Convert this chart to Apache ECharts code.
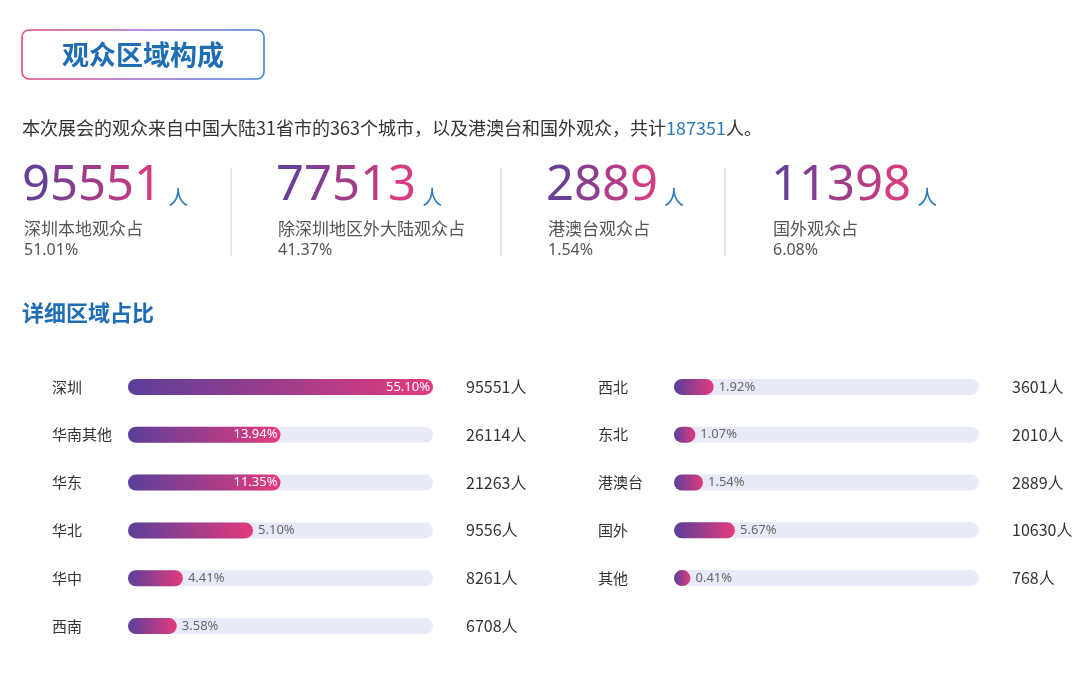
<!DOCTYPE html>
<html>
<head>
<meta charset="utf-8">
<title>观众区域构成</title>
<script src="https://cdn.jsdelivr.net/npm/echarts@6/dist/echarts.min.js"></script>
<style>
  html, body { margin: 0; padding: 0; background: #fff; }
  #main { width: 1080px; height: 675px; }
</style>
</head>
<body>
<div id="main"></div>
<script>
// 数据
const totalVisitors = 187351;
const provinceCount = 31;
const cityCount = 363;

const statValues = [95551, 77513, 2889, 11398];
const statNames = ['深圳本地观众占', '除深圳地区外大陆观众占', '港澳台观众占', '国外观众占'];
const statPercents = [51.01, 41.37, 1.54, 6.08];

const leftRegions = ['深圳', '华南其他', '华东', '华北', '华中', '西南'];
const leftPercents = [55.10, 13.94, 11.35, 5.10, 4.41, 3.58];
const leftCounts = [95551, 26114, 21263, 9556, 8261, 6708];
// 进度条长度（按原图读取，并非按百分比线性）
const leftFill = [1.00, 0.50, 0.50, 0.41, 0.18, 0.16];

const rightRegions = ['西北', '东北', '港澳台', '国外', '其他'];
const rightPercents = [1.92, 1.07, 1.54, 5.67, 0.41];
const rightCounts = [3601, 2010, 2889, 10630, 768];
const rightFill = [0.13, 0.07, 0.095, 0.20, 0.054];

// 样式
const FONT = '"Noto Sans", "Noto Sans CJK SC", sans-serif';
const CJK = '"Noto Sans CJK SC", sans-serif';
const BLUE = '#1f6db3';
const PURPLE = '#5a3f9a';
const PINK = '#e33b7c';

function grad() {
  return new echarts.graphic.LinearGradient(0, 0, 1, 0, [
    { offset: 0, color: PURPLE },
    { offset: 1, color: PINK }
  ]);
}

// 测量文字宽度
const measureCtx = document.createElement('canvas').getContext('2d');
function textWidth(str, font) {
  measureCtx.font = font;
  return measureCtx.measureText(str).width;
}

const chart = echarts.init(document.getElementById('main'));

// 顶部标题和统计
const graphic = [];
graphic.push({
  type: 'rect',
  shape: { x: 22, y: 30, width: 242, height: 49, r: 7 },
  style: {
    fill: '#fff',
    lineWidth: 1.6,
    stroke: new echarts.graphic.LinearGradient(0, 0, 1, 0, [
      { offset: 0, color: '#e4487e' },
      { offset: 0.5, color: '#a066c8' },
      { offset: 1, color: '#3d84d6' }
    ])
  }
});
graphic.push({
  type: 'text', x: 143, y: 55,
  style: { text: '观众区域构成', font: 'bold 27px ' + CJK, fill: BLUE, align: 'center', verticalAlign: 'middle' }
});
graphic.push({
  type: 'text', x: 22, y: 128,
  style: {
    text: '本次展会的观众来自中国大陆' + provinceCount + '省市的' + cityCount +
      '个城市，以及港澳台和国外观众，共计{b|' + totalVisitors + '}人。',
    font: '18px ' + CJK, fill: '#333', verticalAlign: 'middle',
    rich: { b: { fill: '#2a7ab8', fontSize: 18, fontFamily: CJK } }
  }
});

const statX = [22, 276, 546, 771];
const sepX = [231, 501, 725];
const numFont = '49px ' + FONT;
statValues.forEach((v, i) => {
  const s = String(v);
  const w = textWidth(s, numFont);
  // 画布文字不支持渐变填充，逐个数字取渐变色
  let cx = statX[i];
  s.split('').forEach(ch => {
    const cw = textWidth(ch, numFont);
    const t = (cx - statX[i] + cw / 2) / w;
    graphic.push({
      type: 'text', x: cx, y: 186,
      style: { text: ch, font: numFont, fill: echarts.color.lerp(t, [PURPLE, PINK]), verticalAlign: 'middle' }
    });
    cx += cw;
  });
  graphic.push({
    type: 'text', x: statX[i] + w + 6, y: 197,
    style: { text: '人', font: '20px ' + CJK, fill: '#2a7ab8', verticalAlign: 'middle' }
  });
  graphic.push({
    type: 'text', x: statX[i] + 2, y: 229,
    style: { text: statNames[i], font: '17px ' + CJK, fill: '#555', verticalAlign: 'middle' }
  });
  graphic.push({
    type: 'text', x: statX[i] + 2, y: 250,
    style: { text: statPercents[i].toFixed(2) + '%', font: '16px ' + FONT, fill: '#555', verticalAlign: 'middle' }
  });
});
sepX.forEach(x => {
  graphic.push({
    type: 'line',
    shape: { x1: x, y1: 168, x2: x, y2: 256 },
    style: { stroke: '#c8c8c8', lineWidth: 1 }
  });
});
graphic.push({
  type: 'text', x: 22, y: 313,
  style: { text: '详细区域占比', font: 'bold 22px ' + CJK, fill: BLUE, verticalAlign: 'middle' }
});

// 条形图
function nameAxis(gridIndex, names) {
  return {
    gridIndex, type: 'category', inverse: true, data: names,
    axisLine: { show: false }, axisTick: { show: false },
    axisLabel: { align: 'left', margin: 76, fontSize: 15, color: '#333', fontFamily: CJK }
  };
}
function countAxis(gridIndex, counts) {
  return {
    gridIndex, type: 'category', inverse: true, position: 'right',
    data: counts.map(c => c + '人'),
    axisLine: { show: false }, axisTick: { show: false },
    axisLabel: { align: 'left', margin: 33, fontSize: 16, color: '#333', fontFamily: CJK }
  };
}
function barSeries(gridIndex, fills, percents) {
  return {
    type: 'bar',
    xAxisIndex: gridIndex,
    yAxisIndex: gridIndex * 2,
    barWidth: 16,
    silent: true,
    showBackground: true,
    backgroundStyle: { color: '#e8ebf7', borderRadius: 8 },
    itemStyle: { borderRadius: 8, color: grad() },
    label: {
      show: true, fontSize: 13, fontFamily: FONT,
      formatter: p => percents[p.dataIndex].toFixed(2) + '%'
    },
    data: fills.map(v => ({
      value: v,
      label: v >= 0.5
        ? { position: 'insideRight', color: '#fff', distance: 3 }
        : { position: 'right', color: '#666', distance: 5 }
    }))
  };
}

const option = {
  backgroundColor: '#fff',
  animation: false,
  graphic: graphic,
  grid: [
    { left: 128, width: 305, top: 363, height: 287 },
    { left: 674, width: 305, top: 363, height: 239 }
  ],
  xAxis: [
    { gridIndex: 0, type: 'value', min: 0, max: 1, show: false },
    { gridIndex: 1, type: 'value', min: 0, max: 1, show: false }
  ],
  yAxis: [
    nameAxis(0, leftRegions), countAxis(0, leftCounts),
    nameAxis(1, rightRegions), countAxis(1, rightCounts)
  ],
  series: [
    barSeries(0, leftFill, leftPercents),
    barSeries(1, rightFill, rightPercents)
  ]
};

chart.setOption(option);
</script>
</body>
</html>
